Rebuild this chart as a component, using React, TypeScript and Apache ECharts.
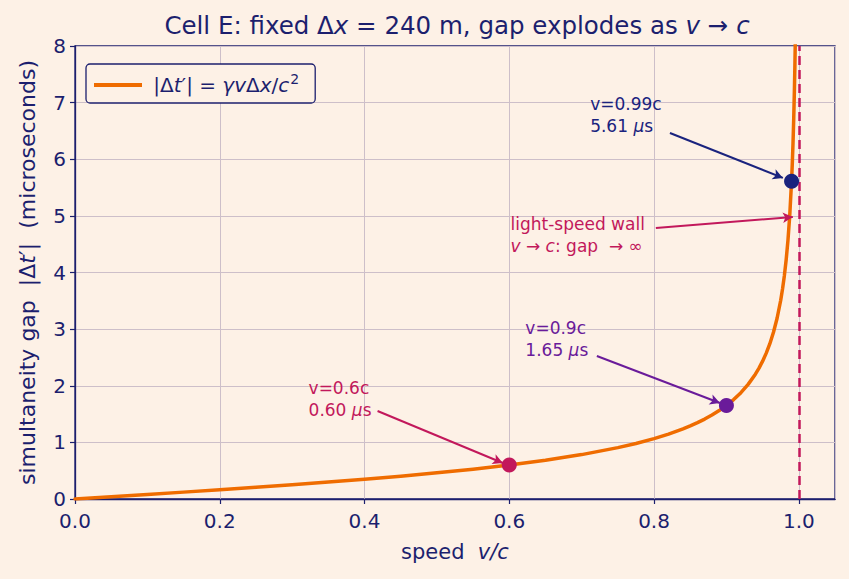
import React, { useEffect, useRef } from 'react';
import * as echarts from 'echarts';

// Sampled gap curve |Δt'| (µs) against speed v/c for Δx = 240 m
const speed = [
  0, 0.05, 0.1, 0.15, 0.2, 0.25, 0.3, 0.35, 0.4, 0.45, 0.5, 0.55, 0.6, 0.65, 0.7, 0.75,
  0.775, 0.8, 0.82, 0.84, 0.85, 0.86, 0.87, 0.88, 0.89, 0.9, 0.91, 0.92, 0.93, 0.94, 0.945,
  0.95, 0.955, 0.96, 0.965, 0.97, 0.975, 0.9775, 0.98, 0.9825, 0.985, 0.9875, 0.99, 0.991,
  0.992, 0.993, 0.994, 0.9945, 0.995, 0.996,
];
const gap = [
  0, 0.04, 0.0804, 0.1214, 0.1633, 0.2066, 0.2516, 0.2989, 0.3491, 0.4031, 0.4619, 0.5268,
  0.6, 0.6843, 0.7842, 0.9071, 0.9811, 1.0667, 1.1461, 1.2385, 1.2909, 1.3482, 1.4116,
  1.4822, 1.5615, 1.6518, 1.7559, 1.878, 2.0242, 2.2042, 2.3114, 2.4339, 2.5758, 2.7429,
  2.9438, 3.1921, 3.5104, 3.7073, 3.9397, 4.2199, 4.5668, 5.0121, 5.6143, 5.9226, 6.2865,
  6.7259, 7.27, 7.596, 7.97, 8.918,
];

// Highlighted speeds and their gaps
const markedSpeed = [0.6, 0.9, 0.99];
const markedGap = [0.6, 1.65, 5.61];

const xTicks = [0, 0.2, 0.4, 0.6, 0.8, 1.0];
const yTicks = [0, 1, 2, 3, 4, 5, 6, 7, 8];

const NAVY = '#1c1f6e';
const ORANGE = '#ef6c00';
const CRIMSON = '#c2185b';
const PURPLE = '#6a1b9a';
const DARKBLUE = '#1a237e';
const BG = '#fdf1e6';
const GRID = '#cdbfc9';
const FONT = 'DejaVu Sans';

const markedColor = [CRIMSON, PURPLE, DARKBLUE];

// Annotation layout (data coordinates): text anchor, arrow tail, arrow head
const noteAt = [
  [0.322, 1.77],
  [0.6215, 2.83],
  [0.711, 6.78],
];
const arrowFrom = [
  [0.418, 1.554],
  [0.721, 2.525],
  [0.822, 6.464],
];
const arrowTo = [
  [0.591, 0.636],
  [0.891, 1.695],
  [0.978, 5.67],
];
const wallNoteAt = [0.601, 4.66];
const wallArrowFrom = [0.8025, 4.786];
const wallArrowTo = [0.9917, 4.98];

const italic = { fontStyle: 'italic' as const };

export default function App() {
  const ref = useRef<HTMLDivElement>(null);

  useEffect(() => {
    const chart = echarts.init(ref.current!, null, { renderer: 'svg' });

    const noteRich = (color: string) => ({
      t: { color, fontSize: 17, fontFamily: FONT, lineHeight: 22 },
      i: { color, fontSize: 17, fontFamily: FONT, lineHeight: 22, ...italic },
    });

    const notes = markedSpeed.map((s, k) => ({
      value: noteAt[k],
      label: {
        formatter: `{t|v=${s}c}\n{t|${markedGap[k].toFixed(2)} }{i|μ}{t|s}`,
        rich: noteRich(markedColor[k]),
      },
    }));
    notes.push({
      value: wallNoteAt,
      label: {
        formatter: '{t|light-speed wall}\n{i|v}{t| → }{i|c}{t|: gap  → ∞}',
        rich: noteRich(CRIMSON),
      },
    });

    const arrows: any[] = markedSpeed.map((_, k) => [
      { coord: arrowFrom[k], lineStyle: { color: markedColor[k], width: 2, type: 'solid' } },
      { coord: arrowTo[k] },
    ]);
    arrows.push([
      { coord: wallArrowFrom, lineStyle: { color: CRIMSON, width: 2, type: 'solid' } },
      { coord: wallArrowTo },
    ]);

    const tickText = { color: NAVY, fontSize: 20, fontFamily: FONT };
    const nameText = { color: NAVY, fontSize: 21, fontFamily: FONT };
    const yNameText = { color: NAVY, fontSize: 22, fontFamily: FONT };

    chart.setOption({
      animation: false,
      backgroundColor: BG,
      textStyle: { fontFamily: FONT },
      title: {
        text: 'Cell E: fixed Δ{i|x} = 240 m, gap explodes as {i|v} → {i|c}',
        left: 452,
        top: 8,
        textAlign: 'center',
        textStyle: {
          color: NAVY,
          fontSize: 24.5,
          fontWeight: 'normal',
          fontFamily: FONT,
          rich: {
            i: { color: NAVY, fontSize: 24.5, fontFamily: FONT, ...italic },
          },
        },
      },
      legend: {
        left: 86,
        top: 64,
        padding: [8, 16, 8, 8],
        itemWidth: 48,
        itemHeight: 4,
        itemGap: 10,
        borderColor: NAVY,
        borderWidth: 1.3,
        borderRadius: 4,
        backgroundColor: BG,
        data: [{ name: 'gap', icon: 'rect' }],
        formatter: () => ' |Δ{i|t}′| = {i|γv}Δ{i|x}/{i|c}{s|2}',
        textStyle: {
          color: NAVY,
          fontSize: 20,
          fontFamily: FONT,
          rich: {
            i: { color: NAVY, fontSize: 20, fontFamily: FONT, ...italic },
            s: { color: NAVY, fontSize: 14, fontFamily: FONT, padding: [0, 0, 12, 1] },
          },
        },
      },
      grid: {
        left: 75,
        right: 14,
        top: 46,
        bottom: 80,
        show: true,
        borderColor: NAVY,
        borderWidth: 1.3,
        backgroundColor: 'transparent',
      },
      xAxis: {
        type: 'value',
        min: 0,
        max: 1.05,
        interval: 0.2,
        name: 'speed  {i|v/c}',
        nameLocation: 'middle',
        nameGap: 42,
        nameTextStyle: { ...nameText, rich: { i: { ...nameText, ...italic } } },
        axisLine: { show: true, lineStyle: { color: NAVY, width: 1.3 } },
        axisTick: { show: true, length: 5, lineStyle: { color: NAVY, width: 1.2 } },
        axisLabel: {
          ...tickText,
          margin: 12,
          showMaxLabel: false,
          formatter: (v: number) => (xTicks.some((t) => Math.abs(t - v) < 1e-9) ? v.toFixed(1) : ''),
        },
        splitLine: { show: true, lineStyle: { color: GRID, width: 1 } },
      },
      yAxis: {
        type: 'value',
        min: 0,
        max: 8,
        interval: 1,
        name: 'simultaneity gap  |Δ{i|t}′|  (microseconds)',
        nameLocation: 'middle',
        nameGap: 37,
        nameTextStyle: { ...yNameText, rich: { i: { ...yNameText, ...italic } } },
        axisLine: { show: true, lineStyle: { color: NAVY, width: 1.3 } },
        axisTick: { show: true, length: 5, lineStyle: { color: NAVY, width: 1.2 } },
        axisLabel: {
          ...tickText,
          margin: 9,
          formatter: (v: number) => (yTicks.includes(v) ? String(v) : ''),
        },
        splitLine: { show: true, lineStyle: { color: GRID, width: 1 } },
      },
      series: [
        {
          name: 'gap',
          type: 'line',
          data: speed.map((s, k) => [s, gap[k]]),
          showSymbol: false,
          symbol: 'none',
          clip: true,
          lineStyle: { color: ORANGE, width: 3.5, join: 'round', cap: 'round' },
          itemStyle: { color: ORANGE },
          z: 3,
          markLine: {
            silent: true,
            symbol: ['none', 'none'],
            label: { show: false },
            lineStyle: { color: CRIMSON, width: 2.5, type: [9, 5] },
            data: [{ xAxis: 1.0 }],
          },
        },
        {
          name: 'arrows',
          type: 'line',
          data: [],
          z: 4,
          markLine: {
            silent: true,
            symbol: ['none', 'arrow'],
            symbolSize: [8, 10],
            label: { show: false },
            lineStyle: { type: 'solid' },
            data: arrows,
          },
        },
        {
          name: 'marked',
          type: 'scatter',
          data: markedSpeed.map((s, k) => ({
            value: [s, markedGap[k]],
            itemStyle: { color: markedColor[k], opacity: 1 },
          })),
          symbolSize: 15,
          z: 5,
        },
        {
          name: 'notes',
          type: 'scatter',
          data: notes,
          symbolSize: 1,
          itemStyle: { color: 'transparent', opacity: 1 },
          silent: true,
          z: 6,
          label: {
            show: true,
            opacity: 1,
            position: 'right',
            distance: 0,
            align: 'left',
            verticalAlign: 'middle',
          },
        },
      ],
    });

    return () => chart.dispose();
  }, []);

  return (
    <div
      ref={ref}
      style={{ position: 'fixed', left: 0, top: 0, width: 849, height: 579 }}
    />
  );
}
